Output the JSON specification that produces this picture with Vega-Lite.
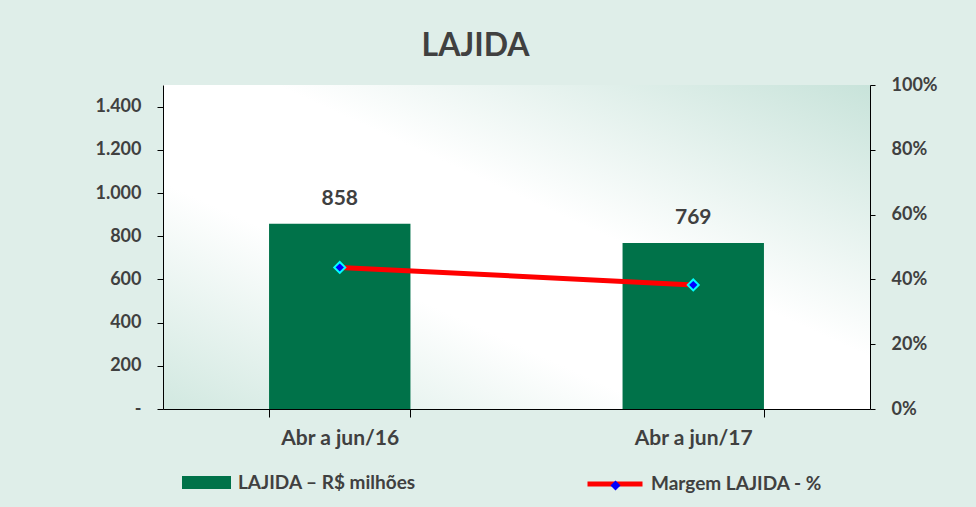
{
  "$schema": "https://vega.github.io/schema/vega-lite/v6.json",
  "width": 707,
  "height": 324,
  "autosize": {"type": "none"},
  "padding": {"left": 163, "top": 85, "right": 106, "bottom": 98},
  "background": "#dfeee9",
  "title": {
    "text": "LAJIDA",
    "font": "Lato",
    "fontSize": 32,
    "fontWeight": "bold",
    "color": "#404040",
    "anchor": "middle",
    "frame": "group",
    "dx": -41,
    "offset": 13
  },
  "config": {
    "font": "Lato",
    "view": {
      "stroke": null,
      "fill": {
        "gradient": "linear",
        "x1": 0, "y1": 1, "x2": 1, "y2": 0,
        "stops": [
          {"offset": 0, "color": "#d1e8e0"},
          {"offset": 0.35, "color": "#ffffff"},
          {"offset": 0.58, "color": "#ffffff"},
          {"offset": 1, "color": "#c8e3da"}
        ]
      }
    },
    "axis": {
      "grid": false,
      "domainColor": "#000000",
      "tickColor": "#000000",
      "domainWidth": 1,
      "tickWidth": 1,
      "labelFont": "Lato",
      "labelFontWeight": "bold",
      "labelColor": "#404040",
      "labelFontSize": 18,
      "title": null
    },
    "legend": {
      "labelFont": "Lato",
      "labelFontSize": 19,
      "labelFontWeight": "bold",
      "labelColor": "#404040",
      "labelLimit": 400,
      "padding": 0,
      "title": null
    }
  },
  "data": {
    "values": [
      {"periodo": "Abr a jun/16", "lajida": 858, "margem": 0.437},
      {"periodo": "Abr a jun/17", "lajida": 769, "margem": 0.383}
    ]
  },
  "encoding": {
    "x": {
      "field": "periodo",
      "type": "nominal",
      "sort": null,
      "scale": {"paddingInner": 0.6, "paddingOuter": 0.3},
      "axis": {
        "orient": "bottom",
        "labelAngle": 0,
        "tickBand": "extent",
        "tickSize": 8,
        "labelPadding": 10,
        "labelFontSize": 21
      }
    }
  },
  "layer": [
    {
      "layer": [
        {
          "mark": {"type": "bar", "color": "#007249"},
          "encoding": {
            "y": {
              "field": "lajida",
              "type": "quantitative",
              "scale": {"domain": [0, 1500], "nice": false},
              "axis": {
                "orient": "left",
                "values": [0, 200, 400, 600, 800, 1000, 1200, 1400],
                "labelExpr": "datum.value == 0 ? '-' : replace(format(datum.value, ','), ',', '.')",
                "tickSize": 6,
                "labelPadding": 16
              }
            },
            "fill": {
              "datum": "LAJIDA – R$ milhões",
              "type": "nominal",
              "scale": {"range": ["#007249"]},
              "legend": {
                "orient": "none",
                "legendX": 19,
                "legendY": 373,
                "symbolType": "M-1,-0.27H1V0.27H-1Z",
                "symbolSize": 2401,
                "symbolStrokeWidth": 0,
                "symbolOpacity": 1,
                "labelOffset": 7
              }
            }
          }
        },
        {
          "mark": {
            "type": "text",
            "font": "Lato",
            "fontSize": 21,
            "fontWeight": "bold",
            "color": "#404040",
            "baseline": "alphabetic",
            "dy": -19
          },
          "encoding": {
            "y": {"field": "lajida", "type": "quantitative"},
            "text": {"field": "lajida", "type": "quantitative", "format": "d"}
          }
        }
      ]
    },
    {
      "layer": [
        {
          "mark": {"type": "line", "strokeWidth": 5},
          "encoding": {
            "y": {
              "field": "margem",
              "type": "quantitative",
              "scale": {"domain": [0, 1], "nice": false},
              "axis": {
                "orient": "right",
                "values": [0, 0.2, 0.4, 0.6, 0.8, 1],
                "format": ".0%",
                "tickSize": 5,
                "labelPadding": 16
              }
            },
            "stroke": {
              "datum": "Margem LAJIDA - %",
              "type": "nominal",
              "scale": {"range": ["#ff0000"]},
              "legend": {
                "orient": "none",
                "legendX": 422,
                "legendY": 369,
                "symbolType": "stroke",
                "symbolSize": 3025,
                "symbolStrokeWidth": 5,
                "labelOffset": 6
              }
            }
          }
        },
        {
          "mark": {
            "type": "point",
            "filled": true,
            "fill": "#0000ff",
            "stroke": "#00ffff",
            "strokeWidth": 2,
            "size": 120,
            "opacity": 1
          },
          "encoding": {
            "y": {"field": "margem", "type": "quantitative"},
            "shape": {
              "datum": "diamante",
              "type": "nominal",
              "scale": {"range": ["diamond"]},
              "legend": {
                "orient": "none",
                "legendX": 443,
                "legendY": 391,
                "symbolType": "diamond",
                "symbolSize": 100,
                "symbolFillColor": "#0000ff",
                "symbolStrokeColor": "#00ffff",
                "symbolStrokeWidth": 1.5,
                "symbolOpacity": 1,
                "labelExpr": "''"
              }
            }
          }
        }
      ]
    }
  ],
  "resolve": {"scale": {"y": "independent"}}
}
